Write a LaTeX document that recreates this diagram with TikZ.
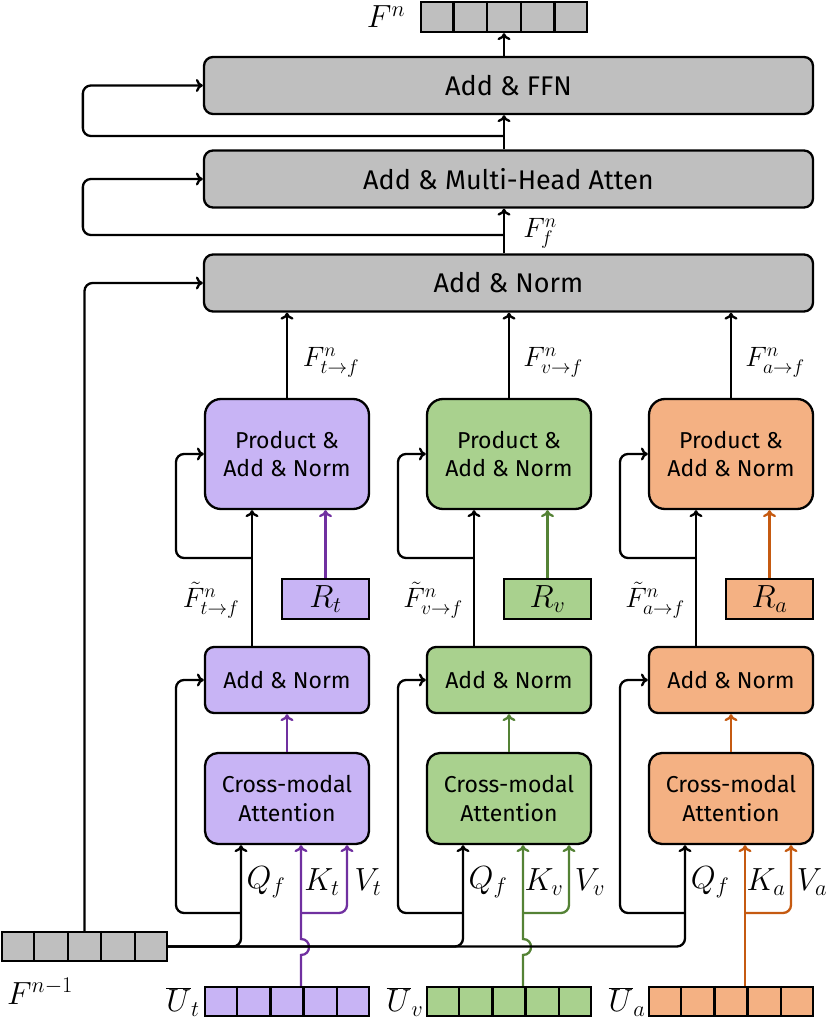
\RequirePackage{fix-cm}
\documentclass[tikz,border=0pt]{standalone}
\usepackage{fontspec}
\setmainfont{Fira Sans}
\usetikzlibrary{arrows.meta,calc}
\definecolor{gfill}{RGB}{191,191,191}
\definecolor{pfill}{RGB}{200,180,245}
\definecolor{pline}{RGB}{112,48,160}
\definecolor{grfill}{RGB}{169,209,142}
\definecolor{grline}{RGB}{84,130,53}
\definecolor{ofill}{RGB}{244,177,131}
\definecolor{oline}{RGB}{197,90,17}
\begin{document}
\begin{tikzpicture}[x=1pt,y=-1pt,line width=2.3pt,>={To[length=7pt,width=13pt]},
  bigbox/.style={draw,fill=gfill,rounded corners=9pt,minimum width=609pt,minimum height=57pt,inner sep=0pt,font=\fontsize{27}{32}\selectfont},
  colbox/.style={draw,minimum width=164pt,inner sep=0pt,align=center,font=\fontsize{23}{28.5}\selectfont},
  rbox/.style={draw,minimum width=87pt,minimum height=40pt,inner sep=0pt,font=\fontsize{32}{36}\selectfont},
  barbox/.style={draw,minimum width=165pt,minimum height=29pt,inner sep=0pt},
  lab/.style={inner sep=0pt,font=\fontsize{32}{36}\selectfont},
  labs/.style={inner sep=0pt,font=\fontsize{28}{32}\selectfont},
  skip/.style={->,rounded corners=8pt}]
\useasboundingbox (0,0) rectangle (830,1027);
% top part
\node[barbox,fill=gfill,minimum width=166pt,minimum height=30pt] (fn) at (504,17) {};
\foreach \k in {1,...,4}
  \draw ($(fn.north west)!\k/5!(fn.north east)$) -- ($(fn.south west)!\k/5!(fn.south east)$);
\node[lab] (fnl) at (386,17) {$F^n$};
\node[bigbox] (ffn) at (508.5,85.5) {Add \& FFN};
\node[bigbox] (mha) at (508.5,179) {Add \& Multi-Head Atten};
\node[bigbox] (anb) at (508.5,283) {Add \& Norm};
\coordinate (mx) at (504,0);
\draw[->] (mx |- ffn.north) -- (fn.south);
\draw[->] (mx |- mha.north) -- (mx |- ffn.south);
\draw[->] (mx |- anb.north) -- (mx |- mha.south);
\coordinate (s1) at (504,136);
\coordinate (s2) at (504,235);
\draw[skip] (s1) -| ($(ffn.west)+(-120,0)$) -- (ffn.west);
\draw[skip] (s2) -| ($(mha.west)+(-120,0)$) -- (mha.west);
\node[labs] (ffl) at (540,233) {$F^n_f$};
% previous layer
\node[barbox,fill=gfill] (fprev) at (84.5,946.5) {};
\foreach \k in {1,...,4}
  \draw ($(fprev.north west)!\k/5!(fprev.north east)$) -- ($(fprev.south west)!\k/5!(fprev.south east)$);
\node[lab] (fpl) at (40,991) {$F^{n-1}$};
\draw[skip] (fprev.north) |- (anb.west);
% columns
\foreach \o/\s/\fc/\lc/\j in {0/t/pfill/pline/1,222/v/grfill/grline/1,444/a/ofill/oline/0}{
  \node[colbox,fill=\fc,rounded corners=16pt,minimum height=110pt] (prod\s) at (287+\o,454) {Product \&\\Add \& Norm};
  \node[colbox,fill=\fc,rounded corners=9pt,minimum height=66pt] (an\s) at (287+\o,680) {Add \& Norm};
  \node[colbox,fill=\fc,rounded corners=13pt,minimum height=91pt] (cm\s) at (287+\o,798.5) {Cross-modal\\Attention};
  \node[rbox,fill=\fc] (r\s) at (325.5+\o,599) {$R_\s$};
  \node[barbox,fill=\fc,minimum width=164pt] (u\s) at (287+\o,1001.5) {};
  \foreach \k in {1,...,4}
    \draw ($(u\s.north west)!\k/5!(u\s.north east)$) -- ($(u\s.south west)!\k/5!(u\s.south east)$);
  \draw[->] (prod\s.north) -- (prod\s.north |- anb.south);
  \draw[->] ($(an\s.north)+(-35,0)$) -- ($(prod\s.south)+(-35,0)$);
  \coordinate (j\s) at (252+\o,558);
  \draw[skip] (j\s) -| (176+\o,454) -- (prod\s.west);
  \draw[->,\lc] (r\s.north) -- (r\s.north |- prod\s.south);
  \draw[->,\lc] (cm\s.north) -- (an\s.south);
  \coordinate (q\s) at ($(cm\s.south)+(-46,0)$);
  \draw[skip] (fprev.east) -| (q\s);
  \coordinate (b\s) at (241+\o,913);
  \draw[skip] (b\s) -| (176+\o,680) -- (an\s.west);
  \coordinate (kx\s) at ($(u\s.north)+(14,0)$);
  \ifnum\j=1
    \draw[->,\lc] (kx\s) -- (301+\o,955) .. controls (311.7+\o,955) and (311.7+\o,939) .. (301+\o,939) -- (kx\s |- cm\s.south);
  \else
    \draw[->,\lc] (kx\s) -- (kx\s |- cm\s.south);
  \fi
  \coordinate (vb\s) at (301+\o,913);
  \draw[skip,\lc] (vb\s) -| ($(cm\s.south)+(60,0)$);
  \node[labs] (fo\s) at (331+\o,362) {$F^n_{\s\to f}$};
  \node[labs] (ft\s) at (211+\o,600) {$\tilde{F}^n_{\s\to f}$};
  \node[lab] (ql\s) at (266+\o,882) {$Q_f$};
  \node[lab] (kl\s) at (322+\o,882) {$K_\s$};
  \node[lab] (vl\s) at (368+\o,882) {$V_\s$};
  \node[lab] (ul\s) at (183+\o,1002) {$\overline{U}_\s$};
}
\end{tikzpicture}
\end{document}
